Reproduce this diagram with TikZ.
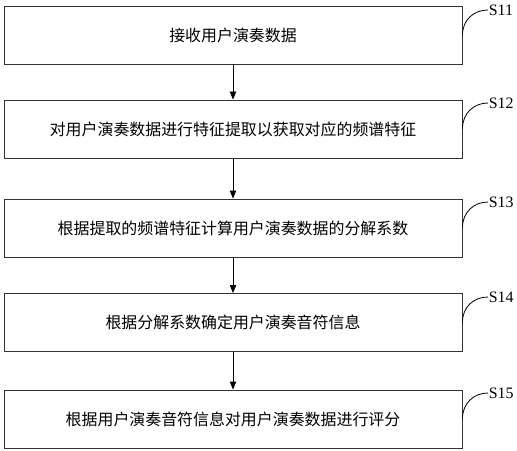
\documentclass[tikz,border=0pt]{standalone}
\usepackage{fontspec}
\setmainfont{Liberation Serif}
\newfontfamily\cjk{Noto Sans CJK SC}
\usepackage{tikz}
\usetikzlibrary{arrows.meta}

\begin{document}
\begin{tikzpicture}[x=0.03cm, y=-0.03cm,
    every node/.style={font=\fontsize{13.6}{16}\selectfont},
    stepbox/.style={rectangle, draw=black!80, fill=white, line width=0.7pt,
                    minimum width=13.74cm, minimum height=1.74cm, inner sep=0pt,
                    font=\cjk\fontsize{13.6}{16}\selectfont},
    flow/.style={draw=black, line width=0.7pt,
                 -{Triangle[length=2.4mm, width=1.9mm]}},
    tag/.style={draw=black, line width=0.7pt},
    tagtext/.style={anchor=west, inner sep=0.5pt}
]
\useasboundingbox (0,0) rectangle (517,450);
% steps
\node[stepbox] (s11) at (233, 35.5)  {接收用户演奏数据};
\node[stepbox] (s12) at (233, 129)   {对用户演奏数据进行特征提取以获取对应的频谱特征};
\node[stepbox] (s13) at (233, 228)   {根据提取的频谱特征计算用户演奏数据的分解系数};
\node[stepbox] (s14) at (233, 322.5) {根据分解系数确定用户演奏音符信息};
\node[stepbox] (s15) at (233, 419)   {根据用户演奏音符信息对用户演奏数据进行评分};
% arrows
\draw[flow] (s11) -- (s12);
\draw[flow] (s12) -- (s13);
\draw[flow] (s13) -- (s14);
\draw[flow] (s14) -- (s15);
% step tags
\coordinate (t11) at (488, 10);
\coordinate (t12) at (488, 103);
\coordinate (t13) at (488, 202);
\coordinate (t14) at (488, 297);
\coordinate (t15) at (488, 393);
\draw[tag] (s11.east) .. controls +(0,-16) and +(-14,0) .. (t11);
\draw[tag] (s12.east) .. controls +(0,-16) and +(-14,0) .. (t12);
\draw[tag] (s13.east) .. controls +(0,-16) and +(-14,0) .. (t13);
\draw[tag] (s14.east) .. controls +(0,-16) and +(-14,0) .. (t14);
\draw[tag] (s15.east) .. controls +(0,-16) and +(-14,0) .. (t15);
\node[tagtext] (l11) at (t11) {S11};
\node[tagtext] (l12) at (t12) {S12};
\node[tagtext] (l13) at (t13) {S13};
\node[tagtext] (l14) at (t14) {S14};
\node[tagtext] (l15) at (t15) {S15};
\end{tikzpicture}
\end{document}
